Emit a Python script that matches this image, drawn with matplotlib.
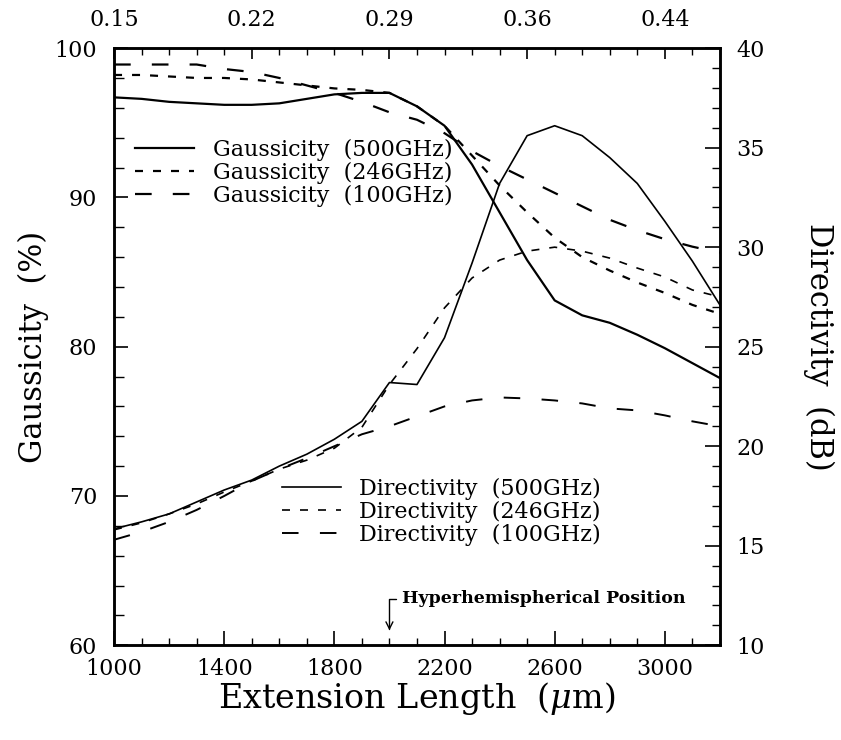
import matplotlib
matplotlib.use('Agg')
import matplotlib.pyplot as plt
from matplotlib.ticker import MultipleLocator

plt.rcParams['font.family'] = 'DejaVu Serif'
plt.rcParams['mathtext.fontset'] = 'dejavuserif'

# extension length (um)
ext_len = [1000, 1100, 1200, 1300, 1400, 1500, 1600, 1700, 1800, 1900, 2000, 2100,
           2200, 2300, 2400, 2500, 2600, 2700, 2800, 2900, 3000, 3100, 3200]

# gaussicity (%)
gauss_500 = [96.7, 96.6, 96.4, 96.3, 96.2, 96.2, 96.3, 96.6, 96.9, 97.0, 97.0, 96.1,
             94.8, 92.2, 89.0, 85.8, 83.1, 82.1, 81.6, 80.8, 79.9, 78.9, 77.9]
gauss_246 = [98.2, 98.2, 98.1, 98.0, 98.0, 97.9, 97.7, 97.5, 97.3, 97.2, 97.0, 96.1,
             94.8, 92.8, 90.8, 89.0, 87.3, 86.0, 85.1, 84.3, 83.6, 82.8, 82.2]
gauss_100 = [98.9, 98.9, 98.9, 98.9, 98.6, 98.4, 98.0, 97.5, 97.0, 96.4, 95.7, 95.2,
             94.3, 93.1, 92.1, 91.2, 90.3, 89.4, 88.5, 87.8, 87.2, 86.7, 86.3]

# directivity (dB)
dir_500 = [15.85, 16.2, 16.6, 17.2, 17.8, 18.3, 19.0, 19.6, 20.35, 21.25, 23.2, 23.1,
           25.45, 29.2, 33.2, 35.6, 36.1, 35.6, 34.5, 33.2, 31.3, 29.3, 27.1]
dir_246 = [15.8, 16.15, 16.6, 17.1, 17.7, 18.25, 18.85, 19.3, 19.9, 20.95, 23.1, 24.9,
           26.95, 28.45, 29.35, 29.8, 30.0, 29.8, 29.45, 28.95, 28.5, 27.85, 27.5]
dir_100 = [15.3, 15.7, 16.2, 16.8, 17.5, 18.25, 18.85, 19.4, 20.0, 20.6, 21.0, 21.5,
           22.0, 22.3, 22.45, 22.4, 22.3, 22.15, 21.9, 21.8, 21.55, 21.25, 21.0]

top_ticks = [1000, 1500, 2000, 2500, 3000]
top_labels = ['0.15', '0.22', '0.29', '0.36', '0.44']

fig, ax = plt.subplots(figsize=(8.41, 7.40), dpi=100)
fig.subplots_adjust(left=0.1356, right=0.856, bottom=0.128, top=0.935)
ax2 = ax.twinx()

short = (0, (3.6, 4.5))
long_ = (0, (7.5, 9.5))
g1, = ax.plot(ext_len, gauss_500, color='k', lw=1.6, ls='-', label='Gaussicity  (500GHz)')
g2, = ax.plot(ext_len, gauss_246, color='k', lw=1.6, ls=short, label='Gaussicity  (246GHz)')
g3, = ax.plot(ext_len, gauss_100, color='k', lw=1.6, ls=long_, label='Gaussicity  (100GHz)')

d1, = ax2.plot(ext_len, dir_500, color='k', lw=1.2, ls='-', label='Directivity  (500GHz)')
d2, = ax2.plot(ext_len, dir_246, color='k', lw=1.2, ls=(0, (4.8, 6)), label='Directivity  (246GHz)')
d3, = ax2.plot(ext_len, dir_100, color='k', lw=1.4, ls=(0, (8.5, 11)), label='Directivity  (100GHz)')

ax.set_xlim(1000, 3200)
ax.set_ylim(60, 100)
ax2.set_ylim(10, 40)

ax.set_xticks([1000, 1400, 1800, 2200, 2600, 3000])
ax.xaxis.set_minor_locator(MultipleLocator(100))
ax.set_yticks([60, 70, 80, 90, 100])
ax.yaxis.set_minor_locator(MultipleLocator(2))
ax2.set_yticks([10, 15, 20, 25, 30, 35, 40])
ax2.yaxis.set_minor_locator(MultipleLocator(1))

ax.tick_params(axis='x', which='both', direction='in', top=False, labelsize=16, pad=9)
ax.tick_params(axis='x', which='major', length=10, width=1.2)
ax.tick_params(axis='x', which='minor', length=5, width=1)
ax.tick_params(axis='y', which='both', direction='in', right=False, labelsize=16, pad=12)
ax.tick_params(axis='y', which='major', length=10, width=1.2)
ax.tick_params(axis='y', which='minor', length=7, width=1)
ax2.tick_params(axis='y', which='both', direction='in', labelsize=16, pad=12)
ax2.tick_params(axis='y', which='major', length=11, width=1.2)
ax2.tick_params(axis='y', which='minor', length=6, width=1)

sec = ax.secondary_xaxis('top')
sec.set_xticks(top_ticks, labels=top_labels)
sec.xaxis.set_minor_locator(MultipleLocator(100))
sec.tick_params(which='both', direction='in', labelsize=16, pad=12)
sec.tick_params(which='major', length=8, width=1.2)
sec.tick_params(which='minor', length=5, width=1)

for a in (ax, ax2):
    for s in a.spines.values():
        s.set_linewidth(1.8)

ax.set_xlabel(r'Extension Length  ($\mu$m)', fontsize=24, labelpad=0)
ax.set_ylabel('Gaussicity  (%)', fontsize=22, labelpad=4)
ax2.set_ylabel('Directivity  (dB)', fontsize=22, rotation=270, labelpad=50)

ax.legend(handles=[g1, g2, g3], loc='upper left', bbox_to_anchor=(0.035, 0.848),
          frameon=False, fontsize=16, handlelength=2.65, handletextpad=0.84,
          labelspacing=0.04, borderpad=0, borderaxespad=0)
ax2.legend(handles=[d1, d2, d3], loc='upper left', bbox_to_anchor=(0.277, 0.28),
           frameon=False, fontsize=16, handlelength=2.65, handletextpad=0.84,
           labelspacing=0.04, borderpad=0, borderaxespad=0)

ax.annotate('Hyperhemispherical Position', xy=(2000, 61.0), xytext=(2045, 63.1),
            fontsize=12.5, fontweight='bold', va='center', ha='left',
            arrowprops=dict(arrowstyle='->', connectionstyle='angle,angleA=0,angleB=90,rad=0',
                            relpos=(0, 0.5), shrinkA=2, shrinkB=0, lw=1, color='k'))

fig.savefig('out.png', dpi=100)
